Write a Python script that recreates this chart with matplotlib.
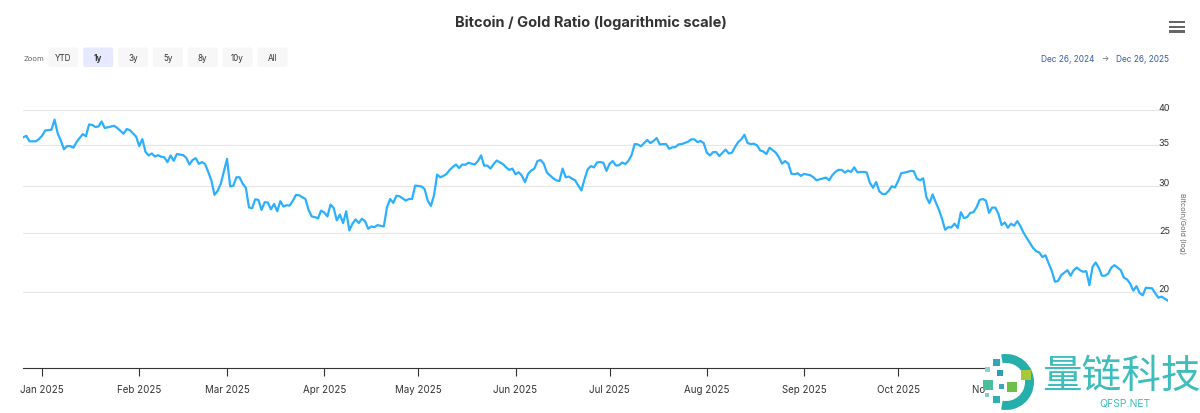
import pandas as pd
import matplotlib
matplotlib.use("Agg")
import matplotlib.pyplot as plt
import matplotlib.transforms as mtransforms
from matplotlib.ticker import NullLocator
from matplotlib.patches import FancyBboxPatch, Rectangle, Wedge

plt.rcParams['font.family'] = ['Inter', 'DejaVu Sans']

# --- data ---
start_date = '2024-12-26'
end_date = '2025-12-26'

# days since start_date
day_offset = [
    0, 1, 2, 4, 5, 6, 7, 9, 10, 11,
    12, 13, 14, 15, 16, 17, 19, 20, 21, 22,
    23, 24, 25, 26, 28, 29, 30, 32, 33, 34,
    36, 37, 38, 39, 40, 41, 42, 43, 44, 45,
    46, 47, 48, 49, 51, 52, 53, 54, 55, 56,
    57, 58, 59, 60, 61, 62, 63, 65, 66, 67,
    68, 69, 70, 71, 72, 73, 74, 75, 76, 77,
    78, 79, 80, 81, 82, 83, 84, 85, 86, 87,
    88,
    90, 91, 92, 93, 94, 95, 96, 97, 98, 99,
    100, 101, 102, 103, 104, 105, 106, 107, 108, 109,
    110, 111, 112, 113, 114, 115, 116, 117, 118, 119,
    120, 122, 123, 124, 125, 127, 128, 129, 130, 131,
    132, 133, 134, 135, 136, 137, 138, 139, 140, 141,
    142, 143, 144, 145, 146, 147, 148, 149, 150, 151,
    153, 154, 155, 156, 157, 158, 159, 160, 161, 162,
    163, 164, 165, 166, 167, 169, 170, 171, 172, 173,
    174, 175, 176, 177, 178, 179, 180, 181, 182, 183,
    184,
    185, 186, 187, 188, 189, 190, 191, 192, 193, 194,
    195, 196, 197, 198, 199, 200, 201, 202, 203, 204,
    205, 206, 207, 208, 209, 210, 212, 213, 214, 215,
    216, 217, 218, 219, 220, 221, 222, 223, 224, 225,
    226, 227, 228, 229, 230, 231, 232, 233, 234, 235,
    236, 237, 238, 240, 241, 242, 243, 244, 245, 246,
    247, 248, 249, 251, 252, 253, 254, 256, 257, 258,
    259, 260, 261, 262, 263, 264, 265, 266, 268, 269,
    270, 271, 272, 273, 274, 275, 276, 277, 278, 279,
    280, 281, 282, 283, 284, 285, 286, 287, 288, 289,
    290, 291, 292, 293, 294, 295, 296, 297, 298, 299,
    300, 301, 302, 303, 304, 305, 306, 307, 308, 309,
    310, 311, 312, 313, 314, 315, 316, 317, 318, 319,
    321, 322, 323, 324, 325, 326, 327, 328, 329, 330,
    331, 333, 334, 335, 336, 337, 338, 339, 340, 341,
    342, 343, 344, 345, 346, 347, 348, 350, 351, 352,
    353, 354, 355, 356, 357, 358, 359, 360, 361, 362,
    363, 364, 365,
]

# bitcoin / gold ratio
ratio = [
    36.05, 36.25, 35.5, 35.5, 35.8, 36.25, 37.0, 37.1, 38.56, 36.6,
    35.6, 34.45, 34.87, 34.87, 34.65, 35.4, 36.5, 36.2, 37.85, 37.8,
    37.5, 37.56, 38.3, 37.35, 37.56, 37.66, 37.35, 36.55, 37.2, 37.05,
    36.15, 34.87, 35.8, 34.1, 33.64, 33.9, 33.5, 33.68, 33.48, 33.4,
    32.8, 33.64, 32.97, 33.82, 33.68, 33.35, 32.5, 33.06, 33.3, 32.58,
    32.8, 32.55, 31.6, 30.6, 28.95, 29.4, 30.2, 33.2, 29.9, 29.97,
    30.96, 30.96, 30.2, 29.75, 27.6, 27.51, 28.47, 28.4, 27.34, 28.15,
    28.12, 27.4, 27.97, 27.2, 28.26, 27.7, 27.83, 27.8, 28.33, 28.95,
    28.9,
    28.5, 27.34, 26.67, 26.6, 26.47, 27.27, 27.07, 26.67, 27.9, 27.55,
    26.27, 26.86, 26.0, 27.2, 25.29, 25.94, 26.37, 26.0, 26.43, 26.2,
    25.45, 25.67, 25.6, 25.8, 25.74, 25.67, 27.6, 28.5, 28.08, 28.85,
    28.8, 28.33, 28.5, 28.5, 30.0, 29.9, 29.6, 28.33, 27.76, 28.9,
    31.28, 30.96, 31.12, 31.36, 31.84, 32.2, 32.5, 32.07, 32.5, 32.47,
    32.72, 32.6, 32.5, 32.93, 33.64, 32.35, 32.38, 32.0, 32.55, 33.0,
    32.55, 32.15, 31.84, 32.0, 31.32, 31.56, 31.16, 30.38, 31.36, 31.76,
    32.0, 32.93, 33.06, 32.6, 31.52, 30.84, 30.6, 30.52, 32.0, 30.96,
    31.04, 30.8, 30.6, 30.0, 29.45, 30.72, 31.9, 32.3, 32.15, 32.75,
    32.8,
    32.72, 31.72, 32.6, 32.93, 32.38, 32.4, 32.75, 32.55, 32.97, 33.68,
    35.13, 35.09, 34.83, 35.27, 35.68, 35.27, 35.55, 35.95, 35.09, 35.13,
    35.13, 34.5, 34.7, 34.74, 35.09, 35.13, 35.45, 35.77, 35.77, 35.4,
    35.55, 35.27, 34.0, 33.64, 34.07, 34.07, 33.56, 34.0, 34.4, 33.9,
    34.0, 34.74, 35.4, 35.77, 36.4, 35.27, 35.13, 35.18, 34.96, 34.3,
    34.15, 33.82, 34.65, 34.0, 33.4, 32.6, 32.93, 32.6, 31.36, 31.32,
    31.44, 31.12, 31.36, 31.2, 30.96, 30.6, 30.72, 30.92, 30.6, 31.2,
    31.6, 31.84, 31.84, 31.52, 31.76, 31.6, 32.15, 31.56, 31.6, 31.52,
    30.3, 29.75, 30.4, 29.35, 29.05, 29.05, 29.4, 29.92, 29.78, 30.52,
    31.44, 31.52, 31.6, 31.72, 31.68, 30.8, 30.6, 30.84, 28.72, 28.05,
    29.0, 28.15, 27.37, 26.43, 25.35, 25.6, 25.58, 25.94, 25.52, 27.1,
    26.5, 26.6, 27.03, 27.1, 27.6, 28.4, 28.5, 28.33, 27.03, 27.58,
    27.58, 26.93, 25.8, 26.07, 25.55, 25.94, 25.74, 26.2, 25.71, 25.06,
    24.13, 23.66, 23.37, 23.25, 22.85, 23.0, 22.3, 21.67, 20.8, 20.85,
    21.33, 21.73, 21.28, 21.73, 21.95, 21.73, 21.6, 21.65, 20.52, 22.0,
    22.38, 21.92, 21.28, 21.28, 21.45, 21.95, 22.15, 21.73, 21.12, 20.98,
    20.65, 20.1, 20.45, 19.93, 19.75, 20.33, 20.3, 20.28, 19.9, 19.57,
    19.65, 19.5, 19.35,
]

y_ticks = [20, 25, 30, 35, 40]
# month ticks; the December label sits under the watermark in the reference
x_tick_dates = ['2025-01-01', '2025-02-01', '2025-03-01', '2025-04-01', '2025-05-01',
                '2025-06-01', '2025-07-01', '2025-08-01', '2025-09-01', '2025-10-01',
                '2025-11-01', '2025-12-01']
x_tick_labels = ['Jan 2025', 'Feb 2025', 'Mar 2025', 'Apr 2025', 'May 2025', 'Jun 2025',
                 'Jul 2025', 'Aug 2025', 'Sep 2025', 'Oct 2025', 'Nov 2025', '']
zoom_buttons = ['YTD', '1y', '3y', '5y', '8y', '10y', 'All']
selected_button = '1y'
range_from = 'Dec 26, 2024'
range_to = 'Dec 26, 2025'
title = 'Bitcoin / Gold Ratio (logarithmic scale)'
y_title = 'Bitcoin/Gold (log)'

# --- figure, sized in pixels ---
W, H = 1200, 414
fig = plt.figure(figsize=(W / 100, H / 100), dpi=100)

left_px, right_px, top_px, bottom_px = 23.2, 1167.8, 98.2, 368.5
ax = fig.add_axes([left_px / W, 1 - bottom_px / H,
                   (right_px - left_px) / W, (bottom_px - top_px) / H])

dates = pd.Timestamp(start_date) + pd.to_timedelta(day_offset, unit='D')
ax.plot(dates, ratio, color='#2caffe', lw=1.6, solid_joinstyle='round', zorder=3)

ax.set_yscale('log')
ax.set_ylim(15, 42)
ax.set_xlim(pd.Timestamp(start_date), pd.Timestamp(end_date))
ax.set_yticks(y_ticks)
ax.yaxis.set_minor_locator(NullLocator())
ax.yaxis.grid(True, color='#e6e6e6', lw=0.8)
ax.tick_params(axis='y', left=False, labelleft=False)

# y labels sit above the grid lines at the right edge
lbl_trans = mtransforms.offset_copy(ax.get_yaxis_transform(), fig=fig, x=2, y=3, units='dots')
for v in y_ticks:
    ax.text(1.0, v, str(v), transform=lbl_trans, ha='right', va='center',
            fontsize=6.5, color='#333333')

ax.set_xticks(pd.to_datetime(x_tick_dates))
ax.set_xticklabels(x_tick_labels)
ax.tick_params(axis='x', length=6, width=0.8, color='#333333', pad=6,
               labelsize=7, labelcolor='#333333')
for s in ['top', 'left', 'right']:
    ax.spines[s].set_visible(False)
ax.spines['bottom'].set_color('#333333')
ax.spines['bottom'].set_linewidth(0.8)
ax.set_facecolor('none')

# --- overlay in pixel coordinates for the chrome ---
ov = fig.add_axes([0, 0, 1, 1], zorder=5)
ov.set_xlim(0, W)
ov.set_ylim(H, 0)
ov.axis('off')
ov.patch.set_visible(False)

ov.text(591, 23, title, ha='center', va='center', fontsize=10.5,
        fontweight='bold', color='#333333')

# menu icon
for yb in [21.7, 26.7, 31.2]:
    ov.add_patch(Rectangle((1168.5, yb), 16.5, 2.3, fc='#666666', ec='none'))

# zoom buttons
ov.text(33.5, 59, 'Zoom', ha='center', va='center', fontsize=5.5, color='#666666')
for i, lab in enumerate(zoom_buttons):
    x0 = 48.3 + i * 34.85
    sel = lab == selected_button
    ov.add_patch(FancyBboxPatch((x0, 48.5), 30, 19.5,
                                boxstyle='round,pad=0,rounding_size=2',
                                fc='#e6e9ff' if sel else '#f7f7f7', ec='none'))
    ov.text(x0 + 15, 58.5, lab, ha='center', va='center', fontsize=5.8,
            color='#333333', fontweight='bold' if sel else 'normal')

# date range
ov.text(1068, 59, range_from, ha='center', va='center', fontsize=6, color='#335cad')
ov.text(1105, 59, '\u2192', ha='center', va='center', fontsize=5.5, color='#666666')
ov.text(1142, 59, range_to, ha='center', va='center', fontsize=6, color='#335cad')

ov.text(1182.7, 224, y_title, rotation=270, ha='center', va='center',
        fontsize=5.3, color='#666666')

# watermark overlay
ov.add_patch(Rectangle((985, 349), 215, 66, fc='white', ec='none'))
ov.add_patch(Wedge((1006, 383), 28, -100, 100, width=9, fc='#25aeaa', ec='none'))
squares = [(993, 360, 7, '#2fa8b8'), (985, 368, 5, '#8fd0d0'), (997, 371, 6, '#2d9fb5'),
           (983, 381, 10, '#4bbf9a'), (999, 385, 5, '#3aa6c0'), (1007, 383, 10, '#6cc04a'),
           (1021, 371, 10, '#a6c83a'), (993, 397, 7, '#2eb0b0'), (985, 394, 4, '#7fcfc8')]
for sx, sy, sz, col in squares:
    ov.add_patch(Rectangle((sx, sy), sz, sz, fc=col, ec='none'))
ov.text(1121, 377, '量链科技', ha='center', va='center', fontsize=28.5,
        family=['Noto Sans CJK SC'], color='#3fbcbc')
ov.text(1125, 404, 'QFSP.NET', ha='center', va='center', fontsize=7.5, color='#3fbcbc')

fig.savefig('out.png', dpi=100, facecolor='white')
